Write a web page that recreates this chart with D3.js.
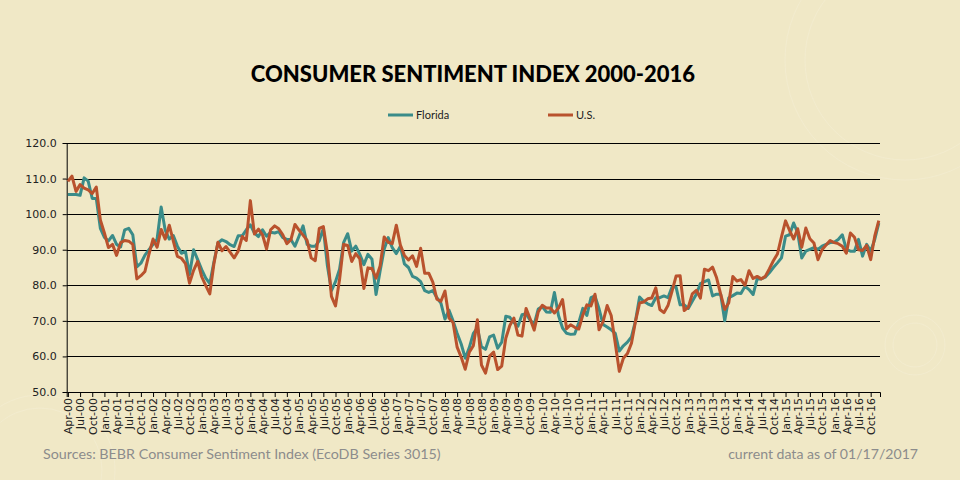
<!DOCTYPE html>
<html>
<head>
<meta charset="utf-8">
<script src="https://cdn.jsdelivr.net/npm/d3@7"></script>
<style>
  body { margin: 0; background: #F0E8C6; }
  svg { display: block; }
</style>
</head>
<body>
<svg id="chart"></svg>
<script>
// monthly values, Apr-00 .. Dec-16 (one row per year)
const floridaValues = [
  105.5, 105.5, 105.5, 105.3, 110.2, 109.3, 104.4, 104.4, 96.0,
  93.5, 92.5, 94.0, 91.5, 90.8, 95.6, 96.0, 94.2, 85.2, 86.2, 88.5, 90.0,
  91.5, 93.0, 102.0, 95.5, 93.0, 94.0, 91.0, 89.0, 89.5, 83.0, 90.0, 87.2,
  84.4, 82.0, 80.5, 86.5, 91.9, 92.8, 92.3, 91.4, 90.9, 93.9, 93.9, 95.6,
  97.0, 94.7, 93.7, 95.6, 93.8, 94.9, 94.7, 95.1, 93.4, 92.9, 92.9, 91.0,
  93.8, 96.7, 91.5, 91.0, 91.0, 92.5, 96.0, 85.5, 78.5, 81.0, 84.5, 92.0,
  94.5, 89.6, 91.0, 88.7, 85.8, 88.7, 87.3, 77.4, 84.0, 90.1, 93.4, 90.6,
  88.9, 91.0, 86.0, 85.0, 82.5, 82.0, 81.0, 78.5, 78.0, 78.5, 76.5, 75.0,
  70.5, 73.0, 70.0, 66.5, 63.5, 59.5, 62.5, 66.5, 68.0, 62.7, 62.0, 65.5,
  66.0, 62.3, 64.0, 71.3, 71.0, 69.5, 68.5, 71.7, 72.0, 70.2, 69.0, 73.3,
  74.0, 72.5, 72.4, 78.0, 71.5, 68.0, 66.5, 66.2, 66.3, 69.5, 73.5, 71.5,
  76.5, 77.0, 73.4, 69.0, 68.3, 67.5, 66.5, 61.5, 63.0, 64.0, 65.5, 70.0,
  76.7, 75.5, 74.8, 74.3, 76.5, 76.5, 77.0, 76.5, 79.5, 79.5, 74.5, 74.5,
  73.5, 75.5, 77.5, 80.5, 81.0, 81.5, 77.0, 77.5, 77.5, 70.0, 76.5, 77.1,
  77.8, 77.7, 79.7, 78.8, 77.4, 81.8, 81.8, 82.3, 83.5, 85.0, 86.3, 87.7,
  93.8, 94.2, 97.5, 94.7, 87.7, 89.6, 90.1, 90.6, 90.1, 91.0, 91.5, 92.0,
  92.1, 92.9, 94.2, 90.1, 89.6, 89.6, 92.9, 88.2, 91.5, 89.6, 92.9, 97.5
];

const usValues = [
  109.2, 110.7, 106.4, 108.3, 107.3, 106.8, 105.8, 107.6, 98.4,
  94.7, 90.6, 91.5, 88.4, 92.0, 92.6, 92.4, 91.5, 81.8, 82.7, 83.9, 88.8,
  93.0, 90.7, 95.7, 93.0, 96.9, 92.4, 88.1, 87.6, 86.1, 80.6, 84.2, 86.7,
  82.4, 79.9, 77.6, 86.0, 92.1, 89.7, 90.9, 89.3, 87.7, 89.6, 93.7, 92.6,
  103.8, 94.4, 95.8, 94.2, 90.2, 95.6, 96.7, 95.9, 94.2, 91.7, 92.8, 97.1,
  95.5, 94.1, 92.6, 87.7, 86.9, 96.0, 96.5, 89.1, 76.9, 74.2, 81.6, 91.5,
  91.2, 86.7, 88.9, 87.4, 79.1, 84.9, 84.7, 82.0, 85.4, 93.6, 92.1, 91.7,
  96.9, 91.3, 88.4, 87.1, 88.3, 85.3, 90.4, 83.4, 83.4, 80.9, 76.1, 75.5,
  78.4, 70.8, 69.5, 62.6, 59.8, 56.4, 61.2, 63.0, 70.3, 57.6, 55.3, 60.1,
  61.2, 56.3, 57.3, 65.1, 68.7, 70.8, 66.0, 65.7, 73.5, 70.6, 67.4, 72.5,
  74.4, 73.6, 73.6, 72.2, 73.6, 76.0, 67.8, 68.9, 68.2, 67.7, 71.6, 74.5,
  74.2, 77.5, 67.5, 69.8, 74.3, 71.5, 63.7, 55.8, 59.5, 60.8, 63.7, 69.9,
  75.0, 75.3, 76.2, 76.4, 79.3, 73.2, 72.3, 74.3, 78.3, 82.6, 82.7, 72.9,
  73.8, 77.6, 78.6, 76.4, 84.5, 84.1, 85.1, 82.1, 77.5, 73.2, 75.1, 82.5,
  81.2, 81.6, 80.0, 84.1, 81.9, 82.5, 81.8, 82.5, 84.6, 86.9, 88.8, 93.6,
  98.1, 95.4, 93.0, 95.9, 90.7, 96.1, 93.1, 91.9, 87.2, 90.0, 91.3, 92.6,
  92.0, 91.7, 91.0, 89.0, 94.7, 93.5, 90.0, 89.8, 91.2, 87.2, 93.8, 98.2
];

const months = d3.timeMonth.range(new Date(2000, 3, 1), new Date(2017, 0, 1));
const yTicks = [50, 60, 70, 80, 90, 100, 110, 120];
const seriesNames = ['Florida', 'U.S.'];
const seriesColors = ['#3A8C89', '#B9522D'];

const width = 960, height = 480;
const plot = { left: 66.7, right: 880, top: 143, bottom: 392 };

const svg = d3.select('#chart')
  .attr('width', width)
  .attr('height', height);

svg.append('rect')
  .attr('width', width)
  .attr('height', height)
  .attr('fill', '#F0E8C6');

// faint background ornaments
const deco = svg.append('g')
  .attr('fill', 'none')
  .attr('stroke', '#ffffff')
  .attr('stroke-opacity', 0.14);
deco.append('circle').attr('cx', 40).attr('cy', 470).attr('r', 75);
deco.append('circle').attr('cx', 40).attr('cy', 470).attr('r', 62);
deco.append('circle').attr('cx', 905).attr('cy', 60).attr('r', 120);
deco.append('circle').attr('cx', 905).attr('cy', 60).attr('r', 100);
deco.append('circle').attr('cx', 915).attr('cy', 345).attr('r', 30);
deco.append('circle').attr('cx', 915).attr('cy', 345).attr('r', 22);

const x = d3.scalePoint()
  .domain(d3.range(months.length))
  .range([plot.left, plot.right])
  .padding(0.3);

const y = d3.scaleLinear()
  .domain([50, 120])
  .range([plot.bottom, plot.top]);

// gridlines
svg.append('g')
  .selectAll('line')
  .data(yTicks.filter(d => d > 50))
  .join('line')
  .attr('x1', plot.left)
  .attr('x2', plot.right)
  .attr('y1', d => Math.round(y(d)) + 0.5)
  .attr('y2', d => Math.round(y(d)) + 0.5)
  .attr('stroke', '#000')
  .attr('stroke-width', 1);

// y axis
const yAxis = d3.axisLeft(y)
  .tickValues(yTicks)
  .tickSize(4)
  .tickPadding(6)
  .tickFormat(d3.format('.1f'));

svg.append('g')
  .attr('transform', `translate(${plot.left},0)`)
  .call(yAxis)
  .call(g => g.selectAll('path, line').attr('stroke', '#000'))
  .call(g => g.selectAll('text')
    .attr('fill', '#222')
    .style('font-family', '"DejaVu Sans", Verdana, sans-serif')
    .style('font-size', '11px'));

// x axis, a tick every quarter
const fmt = d3.timeFormat('%b-%y');
const xAxis = d3.axisBottom(x)
  .tickValues(d3.range(0, months.length, 3))
  .tickSize(5)
  .tickFormat(i => fmt(months[i]));

svg.append('g')
  .attr('transform', `translate(0,${plot.bottom})`)
  .call(xAxis)
  .call(g => g.selectAll('path, line').attr('stroke', '#000'))
  .call(g => g.selectAll('text')
    .attr('transform', 'rotate(-90)')
    .attr('text-anchor', 'end')
    .attr('x', -6)
    .attr('y', 0)
    .attr('dy', '0.35em')
    .attr('fill', '#222')
    .style('font-family', '"DejaVu Sans", Verdana, sans-serif')
    .style('font-size', '11px'));

// lines
const line = d3.line()
  .x((d, i) => x(i))
  .y(d => y(d));

[floridaValues, usValues].forEach((values, k) => {
  svg.append('path')
    .datum(values)
    .attr('fill', 'none')
    .attr('stroke', seriesColors[k])
    .attr('stroke-width', 3)
    .attr('stroke-linejoin', 'round')
    .attr('d', line);
});

// title
svg.append('text')
  .attr('x', 473)
  .attr('y', 82)
  .attr('text-anchor', 'middle')
  .style('font-family', 'Lato, "Open Sans", sans-serif')
  .style('font-weight', 900)
  .style('font-size', '22px')
  .attr('fill', '#000')
  .text('CONSUMER SENTIMENT INDEX 2000-2016');

// legend
const legendX = [388, 548];
const legend = svg.append('g');
seriesNames.forEach((name, k) => {
  legend.append('line')
    .attr('x1', legendX[k]).attr('x2', legendX[k] + 25)
    .attr('y1', 115).attr('y2', 115)
    .attr('stroke', seriesColors[k])
    .attr('stroke-width', 3);
  legend.append('text')
    .attr('x', legendX[k] + 28)
    .attr('y', 119)
    .style('font-family', 'Lato, sans-serif')
    .style('font-size', '11px')
    .attr('fill', '#222')
    .text(name);
});

// notes
svg.append('text')
  .attr('x', 43)
  .attr('y', 459)
  .style('font-family', 'Lato, sans-serif')
  .style('font-size', '14.3px')
  .attr('fill', '#8C8C8C')
  .text('Sources: BEBR Consumer Sentiment Index (EcoDB Series 3015)');

svg.append('text')
  .attr('x', 918)
  .attr('y', 459)
  .attr('text-anchor', 'end')
  .style('font-family', 'Lato, sans-serif')
  .style('font-size', '14.1px')
  .attr('fill', '#8C8C8C')
  .text('current data as of 01/17/2017');
</script>
</body>
</html>
